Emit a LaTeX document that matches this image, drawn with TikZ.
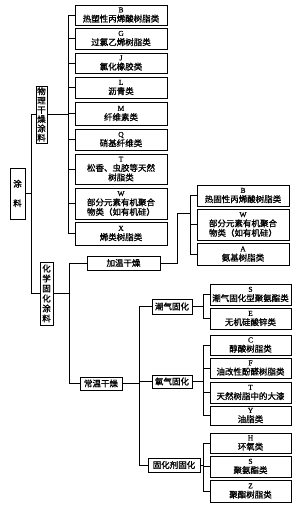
\documentclass[tikz,border=0pt]{standalone}
\usepackage{fontspec}
\setmainfont{Noto Sans CJK SC}[FakeBold=1.2]
\newfontfamily\lat{Liberation Serif}[FakeBold=0.8]
\newcommand{\lt}[1]{{\lat\fontsize{7.5}{8}\selectfont #1}}
\begin{document}
\begin{tikzpicture}[x=1pt,y=-1pt,
  bx/.style={draw,line width=0.9pt,inner sep=0pt,align=center,font=\fontsize{8.5}{9.5}\selectfont},
  lbx/.style={bx,minimum width=92},
  rbx/.style={bx,minimum width=81},
  gbx/.style={bx,minimum width=92},
  mbx/.style={draw,line width=0.9pt,inner sep=1pt,align=center,font=\fontsize{8.5}{9.5}\selectfont},
  vbx/.style={draw,line width=0.9pt,inner sep=0pt,align=center},
  ln/.style={line width=0.8pt}]
\useasboundingbox (0,0) rectangle (300,509);
% left column
\node[lbx,minimum height=20] (lB) at (121,15) {\lt{B}\\热塑性丙烯酸树脂类};
\node[lbx,minimum height=21] (lG) at (121,38.5) {\lt{G}\\过氯乙烯树脂类};
\node[lbx,minimum height=20] (lJ) at (121,63) {\lt{J}\\氯化橡胶类};
\node[lbx,minimum height=21] (lL) at (121,87.5) {\lt{L}\\沥青类};
\node[lbx,minimum height=23] (lM) at (121,113.5) {\lt{M}\\纤维素类};
\node[lbx,minimum height=21] (lQ) at (121,139.5) {\lt{Q}\\硝基纤维类};
\node[lbx,minimum height=30] (lT) at (121,169) {\lt{T}\\松香、虫胶等天然\\树脂类};
\node[lbx,minimum height=31] (lW) at (121,203.5) {\lt{W}\\部分元素有机聚合\\物类（如有机硅）};
\node[lbx,minimum height=23] (lX) at (121,233.5) {\lt{X}\\烯类树脂类};
% main nodes
\node[vbx,minimum width=15,minimum height=51,font=\fontsize{8.5}{9.5}\selectfont] (tl) at (17.5,193.5) {涂\\[10pt]料};
\node[vbx,minimum width=11,minimum height=57,font=\fontsize{8.5}{9.3}\selectfont] (wl) at (41.5,114.5) {物\\理\\干\\燥\\涂\\料};
\node[vbx,minimum width=13,minimum height=63,font=\fontsize{8.5}{10}\selectfont] (hx) at (46.5,293.5) {化\\学\\固\\化\\涂\\料};
\node[mbx,minimum width=73,minimum height=14] (jw) at (123.5,263) {加温干燥};
\node[mbx,minimum width=42,minimum height=13] (cw) at (101,383.5) {常温干燥};
\node[mbx,minimum width=40,minimum height=15] (cq) at (172,306.5) {潮气固化};
\node[mbx,minimum width=40,minimum height=13] (yq) at (172,381.5) {氧气固化};
\node[mbx,minimum width=52,minimum height=14] (gh) at (174,465) {固化剂固化};
% heated group
\node[gbx,minimum height=21] (rB) at (243,195.5) {\lt{B}\\热固性丙烯酸树脂类};
\node[gbx,minimum height=31] (rW) at (243,224.5) {\lt{W}\\部分元素有机聚合\\物类（如有机硅）};
\node[gbx,minimum height=22] (rA) at (243,254) {\lt{A}\\氨基树脂类};
% room temp groups
\node[rbx,minimum height=21] (rS) at (250.5,294.5) {\lt{S}\\潮气固化型聚氨酯类};
\node[rbx,minimum height=21] (rE) at (250.5,318.5) {\lt{E}\\无机硅酸锌类};
\node[rbx,minimum height=20] (rC) at (250.5,345) {\lt{C}\\醇酸树脂类};
\node[rbx,minimum height=20] (rF) at (250.5,368) {\lt{F}\\油改性酚醛树脂类};
\node[rbx,minimum height=21] (rT) at (250.5,392.5) {\lt{T}\\天然树脂中的大漆};
\node[rbx,minimum height=19] (rY) at (250.5,415.5) {\lt{Y}\\油脂类};
\node[rbx,minimum height=20] (rH) at (250.5,443) {\lt{H}\\环氧类};
\node[rbx,minimum height=21] (rS2) at (250.5,466.5) {\lt{S}\\聚氨酯类};
\node[rbx,minimum height=22] (rZ) at (250.5,491) {\lt{Z}\\聚酯树脂类};
% junctions
\coordinate (j0) at (31,193.5);
\coordinate (j1) at (68,114.5);
\coordinate (j2) at (69,293.5);
\coordinate (q1) at (177,213);
\coordinate (j3) at (190,213);
\coordinate (j4) at (139,383.5);
\coordinate (j5) at (203,306.5);
\coordinate (j6) at (203,381.5);
\coordinate (j7) at (203,465);
% connectors
\draw[ln] (tl.east) -- (j0);
\draw[ln] (j0) |- (wl.west);
\draw[ln] (j0) |- (hx.west);
\draw[ln] (wl.east) -- (j1);
\foreach \n in {lB,lG,lJ,lL,lM,lQ,lT,lW,lX} \draw[ln] (j1) |- (\n.west);
\draw[ln] (hx.east) -- (j2);
\draw[ln] (j2) |- (jw.west);
\draw[ln] (j2) |- (cw.west);
\draw[ln] (jw.east) -| (q1) -- (j3);
\foreach \n in {rB,rW,rA} \draw[ln] (j3) |- (\n.west);
\draw[ln] (cw.east) -- (j4);
\foreach \n in {cq,yq,gh} \draw[ln] (j4) |- (\n.west);
\draw[ln] (cq.east) -- (j5);
\foreach \n in {rS,rE} \draw[ln] (j5) |- (\n.west);
\draw[ln] (yq.east) -- (j6);
\foreach \n in {rC,rF,rT,rY} \draw[ln] (j6) |- (\n.west);
\draw[ln] (gh.east) -- (j7);
\foreach \n in {rH,rS2,rZ} \draw[ln] (j7) |- (\n.west);
\end{tikzpicture}
\end{document}
